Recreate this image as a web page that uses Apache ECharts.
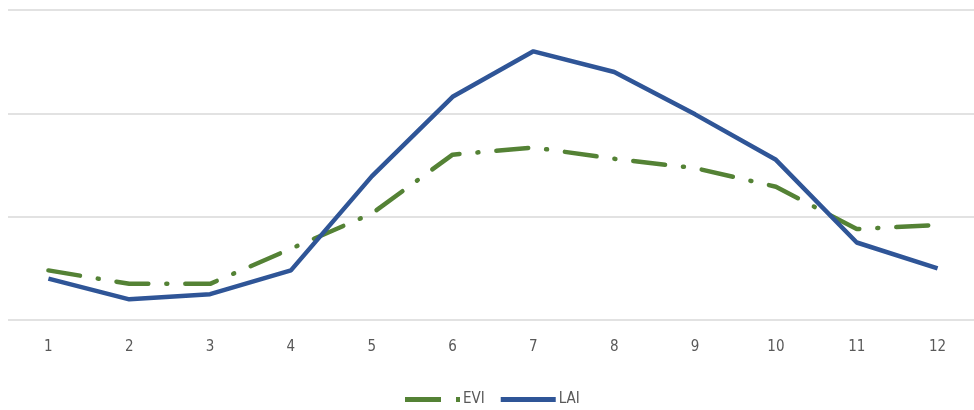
<!DOCTYPE html>
<html><head><meta charset="utf-8">
<script src="https://cdn.jsdelivr.net/npm/echarts@6/dist/echarts.min.js"></script>
<style>html,body{margin:0;padding:0;background:#fff;overflow:hidden}#c{width:980px;height:410px}</style>
</head><body><div id="c"></div>
<script>
const categories = ['1','2','3','4','5','6','7','8','9','10','11','12'];
const evi = [0.48, 0.35, 0.35, 0.69, 1.03, 1.60, 1.67, 1.56, 1.47, 1.29, 0.88, 0.92];
const lai = [0.40, 0.20, 0.25, 0.48, 1.39, 2.16, 2.60, 2.40, 1.99, 1.55, 0.75, 0.50];
const chart = echarts.init(document.getElementById('c'));
const font = "'DejaVu Sans Condensed', 'Liberation Sans', sans-serif";
chart.setOption({
  animation: false,
  grid: {left: 8, width: 970, top: 10, height: 310},
  legend: {
    bottom: -2, left: 400, itemWidth: 55, itemHeight: 5, itemGap: 16,
    textStyle: {fontFamily: font, fontSize: 15, color: '#595959', padding: [0, 0, 0, -2]},
    data: [
      {name: 'EVI', icon: 'path://M0,0H36V5H0Z M51,0H55V5H51Z'},
      {name: 'LAI', icon: 'path://M0,0H55V5H0Z'}
    ]
  },
  xAxis: {
    type: 'category', data: categories, boundaryGap: true,
    axisLine: {show: false}, axisTick: {show: false},
    axisLabel: {fontFamily: font, fontSize: 15, color: '#595959', margin: 20}
  },
  yAxis: {
    type: 'value', min: 0, max: 3, interval: 1,
    axisLabel: {show: false}, axisLine: {show: false}, axisTick: {show: false},
    splitLine: {lineStyle: {color: '#d9d9d9', width: 1.5}}
  },
  series: [
    {name: 'EVI', type: 'line', data: evi, symbol: 'none',
     itemStyle: {color: '#548235'},
     lineStyle: {color: '#548235', width: 4.5, type: [32, 18, 1, 18], cap: 'round'}},
    {name: 'LAI', type: 'line', data: lai, symbol: 'none',
     itemStyle: {color: '#2f5597'},
     lineStyle: {color: '#2f5597', width: 4.5}}
  ]
});
</script></body></html>
